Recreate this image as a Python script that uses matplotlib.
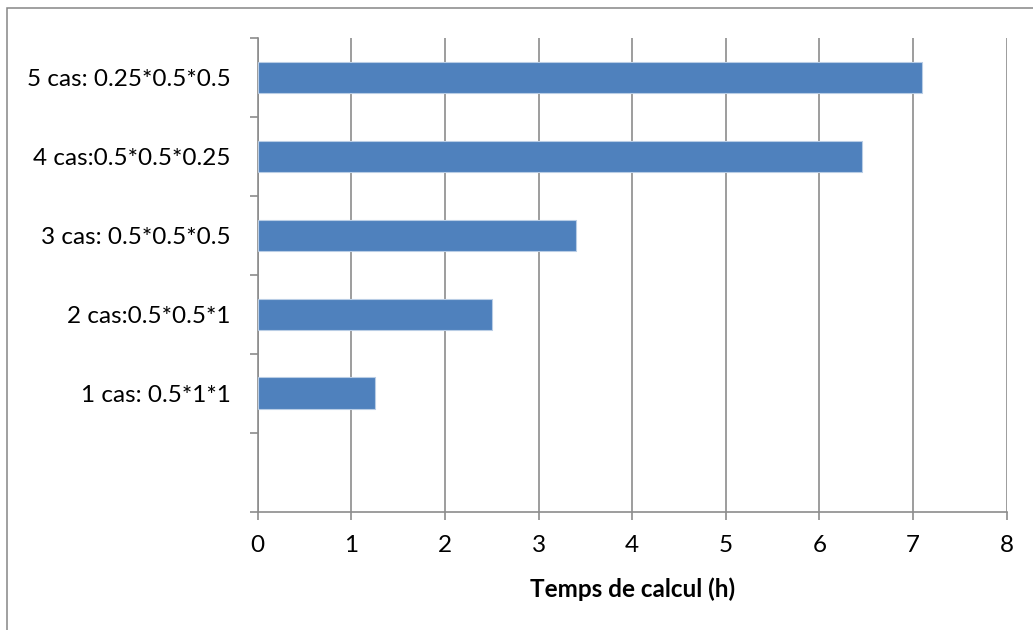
import matplotlib
matplotlib.use("Agg")
import matplotlib.pyplot as plt
from matplotlib.patches import Rectangle

categories = ["1 cas: 0.5*1*1", "2 cas:0.5*0.5*1", "3 cas: 0.5*0.5*0.5",
              "4 cas:0.5*0.5*0.25", "5 cas: 0.25*0.5*0.5"]
temps_h = [1.25, 2.5, 3.4, 6.45, 7.1]
x_ticks = [0, 1, 2, 3, 4, 5, 6, 7, 8]
x_label = "Temps de calcul (h)"

plt.rcParams["font.family"] = ["Lato", "DejaVu Sans"]

W, H = 1033, 630
fig = plt.figure(figsize=(W / 100, H / 100), dpi=100)
fig.patch.set_facecolor("white")

# chart-area frame (left and top edges fall inside the image)
fig.patches.append(Rectangle((7 / W, -0.05), 1.1, 1 - 8 / H + 0.05,
                             transform=fig.transFigure, fill=False,
                             edgecolor="#868686", linewidth=1.1))

ax = fig.add_axes([257.7 / W, 1 - 511.7 / H, (1006.7 - 257.7) / W, (511.7 - 38) / H])

grid_c = "#8c8c8c"
y = list(range(1, len(categories) + 1))
ax.barh(y, temps_h, height=0.4, color="#4f81bd", edgecolor="#b9cde5",
        linewidth=0.8, zorder=3)

ax.set_xlim(0, 8)
ax.set_ylim(0.5 - 1, len(categories) + 0.5)
ax.set_xticks(x_ticks)
ax.set_xticklabels([str(t) for t in x_ticks])
ax.set_yticks(y)
ax.set_yticklabels(categories)
ax.set_yticks([i + 0.5 for i in range(-1, len(categories) + 1)], minor=True)

ax.xaxis.grid(True, color=grid_c, linewidth=1.2, zorder=0)
ax.set_axisbelow(True)

for side in ("top", "right"):
    ax.spines[side].set_visible(False)
for side in ("left", "bottom"):
    ax.spines[side].set_color(grid_c)
    ax.spines[side].set_linewidth(1.2)

fs = 17.5
ax.tick_params(axis="x", direction="out", length=5.5, width=1.2, color=grid_c,
               labelsize=fs, pad=11.5, labelcolor="black")
ax.tick_params(axis="y", which="major", length=0, labelsize=fs, pad=19.5,
               labelcolor="black")
ax.tick_params(axis="y", which="minor", direction="out", length=5.5, width=1.2,
               color=grid_c)

ax.set_xlabel(x_label, fontsize=fs, fontweight="bold", labelpad=15)

fig.savefig("out.png", dpi=100, facecolor="white")
